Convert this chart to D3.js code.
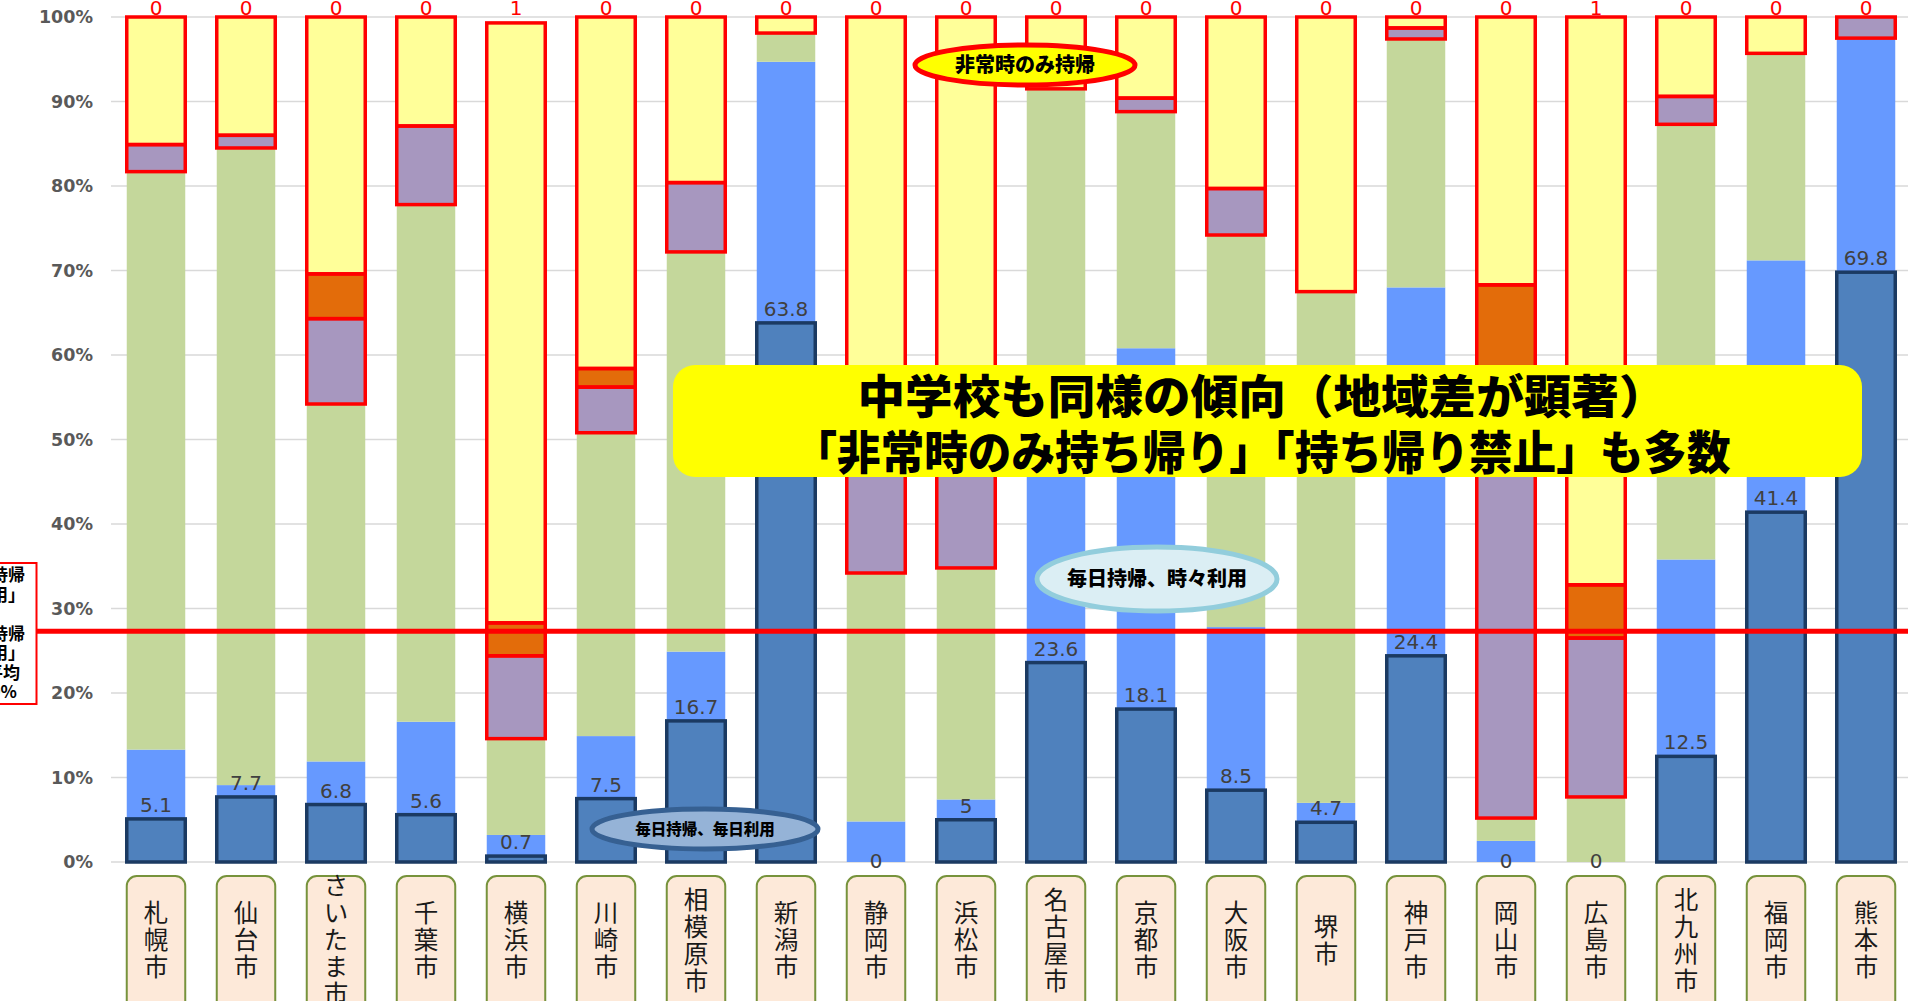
<!DOCTYPE html>
<html>
<head>
<meta charset="utf-8">
<script src="https://cdn.jsdelivr.net/npm/d3@7"></script>
<style>
  body { margin: 0; background: #fff; }
  svg { display: block; }
</style>
</head>
<body>
<div id="wrapper"></div>
<script>
// cities and shares (%), bottom segment first
const cities = ["札幌市","仙台市","さいたま市","千葉市","横浜市","川崎市","相模原市","新潟市","静岡市","浜松市",
  "名古屋市","京都市","大阪市","堺市","神戸市","岡山市","広島市","北九州市","福岡市","熊本市"]
const everyDayUse       = [5.1,7.7,6.8,5.6,0.7,7.5,16.7,63.8,0,5,23.6,18.1,8.5,4.7,24.4,0,0,12.5,41.4,69.8]
const everyDaySometimes = [8.2,1.4,5.1,11.0,2.5,7.4,8.2,30.9,4.8,2.4,31.4,42.7,19.3,2.3,43.6,2.5,0,23.3,29.8,27.7]
const everyDayRarely    = [68.4,75.4,42.3,61.2,11.4,35.9,47.3,3.4,29.4,27.4,36.5,28.0,46.4,60.5,29.4,2.7,7.7,51.5,24.5,0]
const sometimesHome     = [3.2,1.5,10.1,9.3,9.8,5.4,8.2,0,20.8,20.2,0,1.6,5.5,0,1.3,51.8,18.8,3.3,0,2.5]
const otherHome         = [0,0,5.3,0,3.9,2.2,0,0,0,0,0,0,0,0,0,11.3,6.3,0,0,0]
const emergencyOnly     = [15.1,14.0,30.4,12.9,71.0,41.6,19.6,1.9,45.0,45.0,8.5,9.6,20.3,32.5,1.3,31.7,67.2,9.4,4.3,0]
const prohibitedCount   = [0,0,0,0,1,0,0,0,0,0,0,0,0,0,0,0,1,0,0,0]
const nationalAverage = 27.3
const yTicks = [0,10,20,30,40,50,60,70,80,90,100]
const legendLines = ["「毎日持帰","毎日利用」","","「毎日持帰","毎日利用」","全国平均","27.0%"]

const keys = ["dark","light","green","purple","orange","yellow"]
const table = cities.map((city, i) => ({
  city,
  dark: everyDayUse[i],
  light: everyDaySometimes[i],
  green: everyDayRarely[i],
  purple: sometimesHome[i],
  orange: otherHome[i],
  yellow: emergencyOnly[i],
}))

const colors = {
  dark: "#4f81bd", light: "#6699ff", green: "#c4d79b",
  purple: "#a797bf", orange: "#e36c0a", yellow: "#ffff99",
}
const outlines = { dark: "#1b3a62", purple: "#ff0000", orange: "#ff0000", yellow: "#ff0000" }

const dimensions = { width: 1908, height: 1001, left: 111, right: 1911, top: 17, bottom: 862 }
const jpFont = "'Noto Sans CJK JP', sans-serif"

const svg = d3.select("#wrapper").append("svg")
    .attr("width", dimensions.width)
    .attr("height", dimensions.height)

// scales
const xScale = d3.scaleBand()
  .domain(cities)
  .range([dimensions.left, dimensions.right])
  .paddingInner(0.35)
  .paddingOuter(0.175)

const yScale = d3.scaleLinear()
  .domain([0, 100])
  .range([dimensions.bottom, dimensions.top])

// gridlines + y labels
svg.selectAll(".grid")
    .data(yTicks)
  .enter().append("line")
    .attr("x1", dimensions.left)
    .attr("x2", dimensions.width)
    .attr("y1", yScale)
    .attr("y2", yScale)
    .attr("stroke", "#d9d9d9")
    .attr("stroke-width", 1.5)

svg.selectAll(".y-label")
    .data(yTicks)
  .enter().append("text")
    .attr("x", 93)
    .attr("y", yScale)
    .attr("dy", "0.36em")
    .attr("text-anchor", "end")
    .style("font", "bold 17.5px 'DejaVu Sans', Verdana, sans-serif")
    .attr("fill", "#595959")
    .text(d => d + "%")

// stacked bars
const series = d3.stack().keys(keys)(table)

const layers = svg.selectAll(".layer")
    .data(series)
  .enter().append("g")
    .attr("fill", d => colors[d.key])

layers.selectAll("rect")
    .data(d => d.filter(p => p[1] - p[0] > 0))
  .enter().append("rect")
    .attr("x", d => xScale(d.data.city))
    .attr("width", xScale.bandwidth())
    .attr("y", d => yScale(d[1]))
    .attr("height", d => yScale(d[0]) - yScale(d[1]))

// outlines drawn after all fills so they sit on top
series.filter(s => outlines[s.key]).forEach(s => {
  svg.append("g").selectAll("rect")
      .data(s.filter(p => p[1] - p[0] > 0))
    .enter().append("rect")
      .attr("x", d => xScale(d.data.city))
      .attr("width", xScale.bandwidth())
      .attr("y", d => yScale(d[1]))
      .attr("height", d => yScale(d[0]) - yScale(d[1]))
      .attr("fill", "none")
      .attr("stroke", outlines[s.key])
      .attr("stroke-width", 3.5)
})

// value labels for the bottom series
svg.selectAll(".value-label")
    .data(table)
  .enter().append("text")
    .attr("x", d => xScale(d.city) + xScale.bandwidth() / 2)
    .attr("y", d => d.dark > 0 ? yScale(d.dark) - 7 : yScale(0) + 6)
    .attr("text-anchor", "middle")
    .style("font", "20px 'DejaVu Sans', Verdana, sans-serif")
    .attr("fill", "#404040")
    .text(d => d.dark)

// red counts above the bars
svg.selectAll(".top-label")
    .data(prohibitedCount)
  .enter().append("text")
    .attr("x", (d, i) => xScale(cities[i]) + xScale.bandwidth() / 2)
    .attr("y", 15)
    .attr("text-anchor", "middle")
    .style("font", "20px 'DejaVu Sans', Verdana, sans-serif")
    .attr("fill", "#ff0000")
    .text(d => d)

// national average line + its legend box
svg.append("line")
    .attr("x1", 36)
    .attr("x2", dimensions.width)
    .attr("y1", yScale(nationalAverage))
    .attr("y2", yScale(nationalAverage))
    .attr("stroke", "#ff0000")
    .attr("stroke-width", 5)

svg.append("rect")
    .attr("x", -10).attr("y", 563)
    .attr("width", 46.5).attr("height", 141)
    .attr("fill", "#fff")
    .attr("stroke", "#ff0000")
    .attr("stroke-width", 2)

const legendRight = [25, 25, 25, 25, 25, 20, 17]
svg.selectAll(".legend-line")
    .data(legendLines)
  .enter().append("text")
    .attr("x", (d, i) => legendRight[i])
    .attr("y", (d, i) => 575 + i * 19.5)
    .attr("dy", "0.36em")
    .attr("text-anchor", "end")
    .style("font", `bold 17px ${jpFont}`)
    .attr("fill", "#000")
    .text(d => d)

// big yellow callout
svg.append("rect")
    .attr("x", 673).attr("y", 365)
    .attr("width", 1189).attr("height", 112)
    .attr("rx", 22)
    .attr("fill", "#ffff00")

const calloutLines = [
  { text: "中学校も同様の傾向（地域差が顕著）", y: 396, len: 809 },
  { text: "「非常時のみ持ち帰り」「持ち帰り禁止」も多数", y: 452, len: 937 },
]
svg.selectAll(".callout")
    .data(calloutLines)
  .enter().append("text")
    .attr("x", 1262)
    .attr("y", d => d.y)
    .attr("dy", "0.36em")
    .attr("text-anchor", "middle")
    .attr("textLength", d => d.len)
    .attr("lengthAdjust", "spacingAndGlyphs")
    .style("font", `900 46px ${jpFont}`)
    .attr("fill", "#000")
    .text(d => d.text)

// ellipse notes
const notes = [
  { text: "非常時のみ持帰", cx: 1025, cy: 65, rx: 110, ry: 20, fill: "#ffff00", stroke: "#ff0000", size: 20 },
  { text: "毎日持帰、時々利用", cx: 1157, cy: 579, rx: 120, ry: 32, fill: "#dbeef4", stroke: "#92cddc", size: 20 },
  { text: "毎日持帰、毎日利用", cx: 705, cy: 829, rx: 113, ry: 20, fill: "#95b3d7", stroke: "#366092", size: 15.5 },
]
const noteGroups = svg.selectAll(".note")
    .data(notes)
  .enter().append("g")
noteGroups.append("ellipse")
    .attr("cx", d => d.cx).attr("cy", d => d.cy)
    .attr("rx", d => d.rx).attr("ry", d => d.ry)
    .attr("fill", d => d.fill)
    .attr("stroke", d => d.stroke)
    .attr("stroke-width", 5)
noteGroups.append("text")
    .attr("x", d => d.cx)
    .attr("y", d => d.cy)
    .attr("dy", "0.36em")
    .attr("text-anchor", "middle")
    .style("font-family", jpFont)
    .style("font-weight", 900)
    .style("font-size", d => d.size + "px")
    .attr("fill", "#000")
    .text(d => d.text)

// category tags along the bottom, vertical text
const tags = svg.selectAll(".tag")
    .data(cities)
  .enter().append("g")
tags.append("rect")
    .attr("x", d => xScale(d))
    .attr("y", 876)
    .attr("width", xScale.bandwidth())
    .attr("height", 150)
    .attr("rx", 10)
    .attr("fill", "#fde9d9")
    .attr("stroke", "#77933c")
    .attr("stroke-width", 2)
tags.append("text")
    .attr("x", d => xScale(d) + xScale.bandwidth() / 2)
    .attr("y", 941)
    .attr("text-anchor", "middle")
    .style("writing-mode", "vertical-rl")
    .style("text-orientation", "upright")
    .style("letter-spacing", "2.5px")
    .style("font", `24.5px ${jpFont}`)
    .attr("fill", "#1a1a1a")
    .text(d => d)
</script>
</body>
</html>
